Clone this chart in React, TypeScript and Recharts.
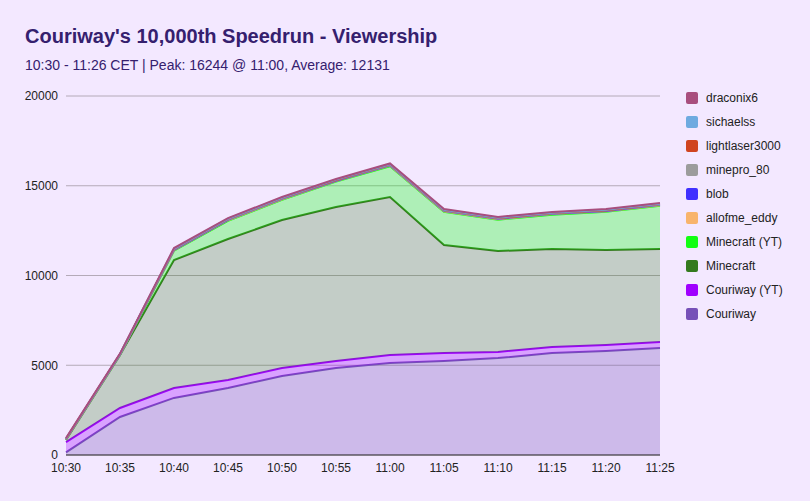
import { AreaChart, Area, XAxis, YAxis, CartesianGrid, Legend } from 'recharts';

const times = ['10:30', '10:35', '10:40', '10:45', '10:50', '10:55', '11:00', '11:05', '11:10', '11:15', '11:20', '11:25'];
const couriway = [150, 2120, 3180, 3730, 4400, 4850, 5120, 5240, 5400, 5680, 5800, 5960];
const couriwayYT = [570, 500, 550, 450, 450, 390, 450, 440, 340, 340, 330, 340];
const minecraft = [130, 2950, 7130, 7850, 8240, 8580, 8800, 6020, 5620, 5460, 5290, 5180];
const minecraftYT = [0, 0, 520, 1020, 1130, 1410, 1720, 1850, 1750, 1910, 2130, 2410];
const allofme = [20, 20, 30, 30, 30, 30, 30, 30, 30, 30, 30, 30];
const blob = [10, 10, 20, 20, 20, 20, 20, 20, 20, 20, 20, 20];
const minepro = [10, 10, 20, 20, 20, 20, 20, 20, 20, 20, 20, 20];
const lightlaser = [10, 10, 20, 20, 20, 20, 20, 20, 20, 20, 20, 20];
const sichaelss = [10, 10, 20, 20, 20, 20, 20, 20, 20, 20, 20, 20];
const draconix = [30, 20, 40, 40, 40, 34, 44, 40, 40, 40, 40, 40];
const yTicks = [0, 5000, 10000, 15000, 20000];

const series = [
  { key: 'Couriway', values: couriway, color: '#7650b8' },
  { key: 'Couriway (YT)', values: couriwayYT, color: '#a000ff' },
  { key: 'Minecraft', values: minecraft, color: '#347a1e' },
  { key: 'Minecraft (YT)', values: minecraftYT, color: '#12ff12' },
  { key: 'allofme_eddy', values: allofme, color: '#f8b46c' },
  { key: 'blob', values: blob, color: '#4030ff' },
  { key: 'minepro_80', values: minepro, color: '#9c9c9c' },
  { key: 'lightlaser3000', values: lightlaser, color: '#d04420' },
  { key: 'sichaelss', values: sichaelss, color: '#6eaae0' },
  { key: 'draconix6', values: draconix, color: '#a84e7e' },
];

const data = times.map((t, i) => {
  const row: Record<string, string | number> = { time: t };
  series.forEach((s) => (row[s.key] = s.values[i]));
  return row;
});

const fillOpacity: Record<string, number> = {
  Couriway: 0.3,
  'Couriway (YT)': 0.3,
  Minecraft: 0.25,
  'Minecraft (YT)': 0.3,
};

function SideLegend() {
  return (
    <div style={{ paddingLeft: 6 }}>
      {[...series].reverse().map((s) => (
        <div key={s.key} style={{ display: 'flex', alignItems: 'center', height: 24, fontSize: 12, color: '#222' }}>
          <span style={{ width: 12, height: 12, borderRadius: 2, background: s.color, marginRight: 8, display: 'inline-block' }} />
          {s.key}
        </div>
      ))}
    </div>
  );
}

export default function App() {
  return (
    <div style={{ position: 'fixed', left: 0, top: 0, width: 810, height: 501, background: '#f3e8ff', fontFamily: 'Arial, "Liberation Sans", sans-serif' }}>
      <div style={{ position: 'absolute', left: 25, top: 25, fontSize: 20, fontWeight: 'bold', color: '#35206e' }}>
        Couriway's 10,000th Speedrun - Viewership
      </div>
      <div style={{ position: 'absolute', left: 25, top: 57, fontSize: 14, color: '#35206e' }}>
        10:30 - 11:26 CET | Peak: 16244 @ 11:00, Average: 12131
      </div>
      <div style={{ position: 'absolute', left: 0, top: 86 }}>
        <AreaChart width={810} height={409} data={data} margin={{ top: 10, right: 20, bottom: 10, left: 6 }}>
          <CartesianGrid vertical={false} stroke="#b4aab8" />
          <XAxis dataKey="time" tick={{ fill: '#222', fontSize: 12 }} tickLine={false} axisLine={{ stroke: '#333' }} />
          <YAxis domain={[0, 20000]} ticks={yTicks} tick={{ fill: '#222', fontSize: 12 }} tickLine={false} axisLine={false} width={60} />
          <Legend layout="vertical" align="right" verticalAlign="top" content={<SideLegend />} wrapperStyle={{ top: 0, width: 130, right: 0 }} />
          {series.map((s) => (
            <Area
              key={s.key}
              type="linear"
              dataKey={s.key}
              stackId="1"
              stroke={s.color}
              strokeWidth={2}
              fill={s.color}
              fillOpacity={fillOpacity[s.key] ?? 0.3}
              isAnimationActive={false}
            />
          ))}
        </AreaChart>
      </div>
    </div>
  );
}
